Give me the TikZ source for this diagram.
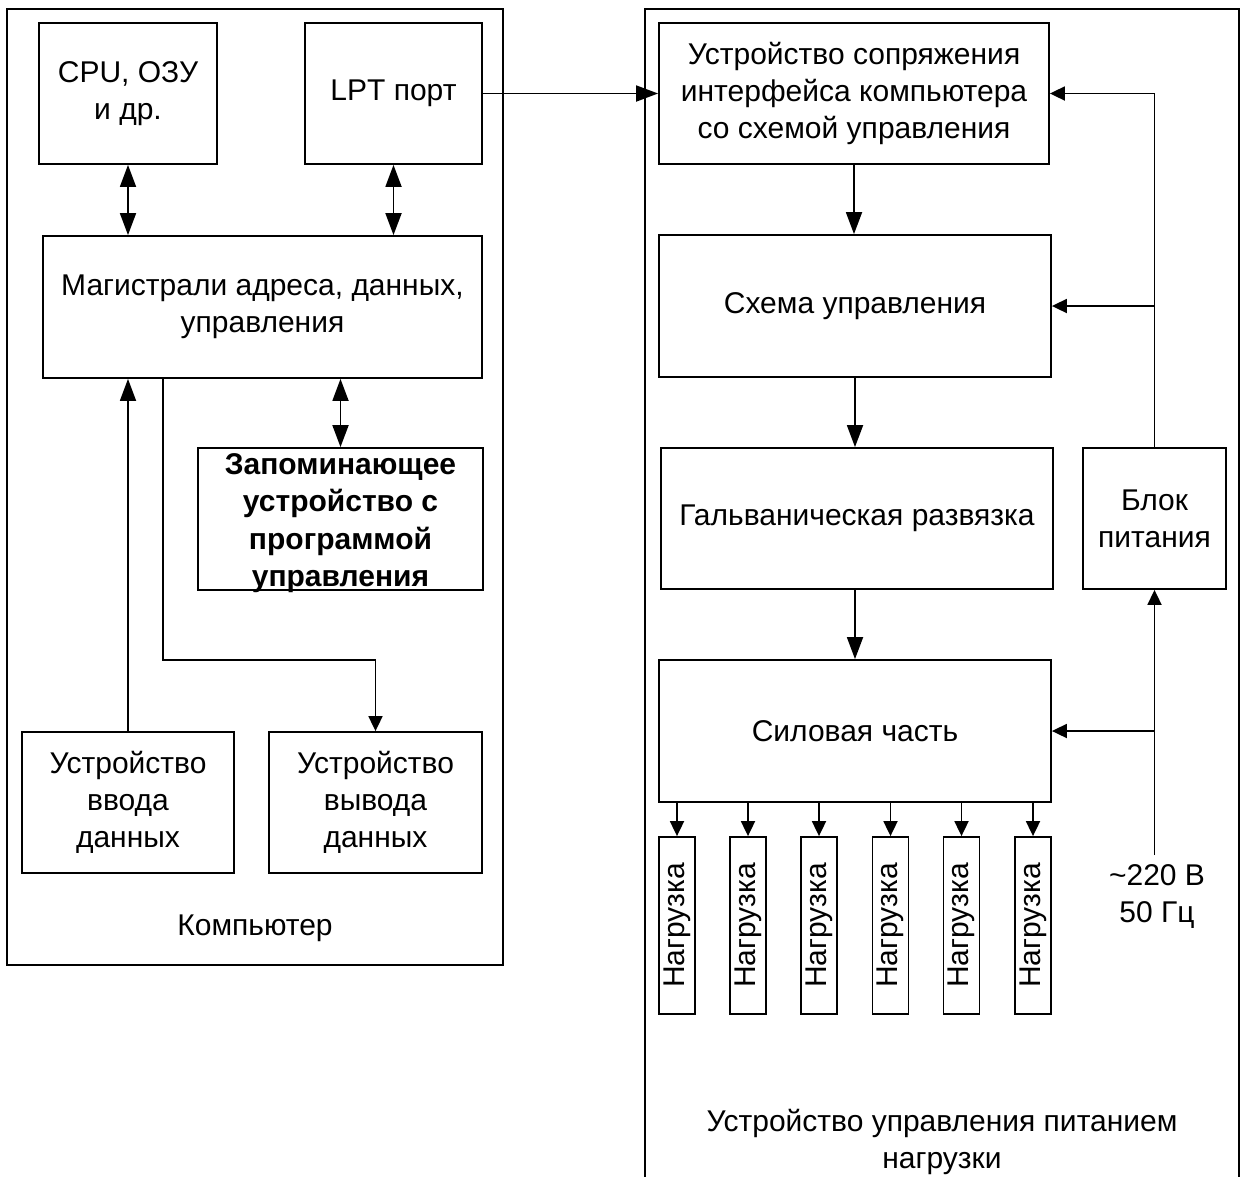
\documentclass[tikz,border=0pt]{standalone}
\usepackage{fontspec}
\setmainfont{Liberation Sans}
\usetikzlibrary{arrows.meta}

\tikzset{
  blk/.style={draw, line width=1.8pt, align=center, inner sep=0pt,
              font=\fontsize{30}{37}\selectfont},
  lbl/.style={align=center, inner sep=0pt, font=\fontsize{30}{37}\selectfont},
  conn/.style={line width=1.8pt},
  bigtip/.style={-{Triangle[length=22pt,width=16pt]}},
  bigboth/.style={{Triangle[length=22pt,width=16pt]}-{Triangle[length=22pt,width=16pt]}},
  smalltip/.style={-{Triangle[length=15pt,width=14pt]}},
  loadbox/.style={blk, minimum width=36pt, minimum height=177pt},
}

\begin{document}
\begin{tikzpicture}[x=1pt, y=-1pt]
  \useasboundingbox (0,0) rectangle (1245,1176);

  % --- computer ---
  \draw[conn] (7,9) rectangle (503,965);
  \node[lbl] (pclabel) at (255,928) {Компьютер};

  \node[blk, minimum width=178pt, minimum height=141pt] (cpu) at (128,93.5) {CPU, ОЗУ\\и др.};
  \node[blk, minimum width=177pt, minimum height=141pt] (lpt) at (393.5,93.5) {LPT порт};
  \node[blk, minimum width=439pt, minimum height=142pt] (bus) at (262.5,307) {Магистрали адреса, данных,\\управления};
  \node[blk, minimum width=285pt, minimum height=142pt] (mem) at (340.5,519) {};
  \node[lbl, font=\fontsize{30}{37.5}\selectfont\bfseries] (memtext) at ([yshift=-4pt]mem.center)
       {Запоминающее\\устройство с\\программой\\управления};
  \node[blk, minimum width=212pt, minimum height=141pt] (inp) at (128,802.5) {Устройство\\ввода\\данных};
  \node[blk, minimum width=213pt, minimum height=141pt] (outp) at (375.5,802.5) {Устройство\\вывода\\данных};

  \draw[conn, bigboth] (cpu.south) -- (cpu.south |- bus.north);
  \draw[conn, bigboth] (lpt.south) -- (lpt.south |- bus.north);
  \draw[conn, bigboth] (mem.north |- bus.south) -- (mem.north);
  \draw[conn, bigtip] (inp.north) -- (inp.north |- bus.south);
  \coordinate (busout) at (163,378);
  \coordinate (bend) at (163,660);
  \draw[conn, smalltip] (busout) -- (bend) -| (outp.north);

  % --- power control unit ---
  \draw[conn] (645,1180) -- (645,9) -- (1239,9) -- (1239,1180);
  \node[lbl] (ulabel) at (942,1142) {Устройство управления питанием\\нагрузки};

  \node[blk, minimum width=390pt, minimum height=141pt] (ifc) at (854,93.5)
       {Устройство сопряжения\\интерфейса компьютера\\со схемой управления};
  \node[blk, minimum width=392pt, minimum height=142pt] (ctl) at (855,306) {Схема управления};
  \node[blk, minimum width=392pt, minimum height=141pt] (gal) at (857,518.5) {Гальваническая развязка};
  \node[blk, minimum width=143pt, minimum height=141pt] (psu) at (1154.5,518.5) {Блок\\питания};
  \node[blk, minimum width=392pt, minimum height=142pt] (pwr) at (855,731) {Силовая часть};

  \foreach \i/\x in {1/677, 2/748, 3/819, 4/890.5, 5/961.5, 6/1033} {
    \node[loadbox] (load\i) at (\x,925.5) {\rotatebox{90}{Нагрузка}};
    \draw[conn, smalltip] (load\i.north |- pwr.south) -- (load\i.north);
  }

  \draw[conn, bigtip] (lpt.east) -- (ifc.west);
  \draw[conn, bigtip] (ifc.south) -- (ifc.south |- ctl.north);
  \draw[conn, bigtip] (ctl.south) -- (ctl.south |- gal.north);
  \draw[conn, bigtip] (gal.south -| ctl.south) -- (ctl.south |- pwr.north);

  \draw[conn, smalltip] (psu.north) |- (ifc.east);
  \draw[conn, smalltip] (psu.north |- ctl.east) -- (ctl.east);

  \coordinate (mains) at (1154.5,855);
  \node[lbl] (aclabel) at (1157,896) {\textasciitilde220 В\\50 Гц};
  \draw[conn, smalltip] (mains) -- (psu.south);
  \draw[conn, smalltip] (mains |- pwr.east) -- (pwr.east);
\end{tikzpicture}
\end{document}
